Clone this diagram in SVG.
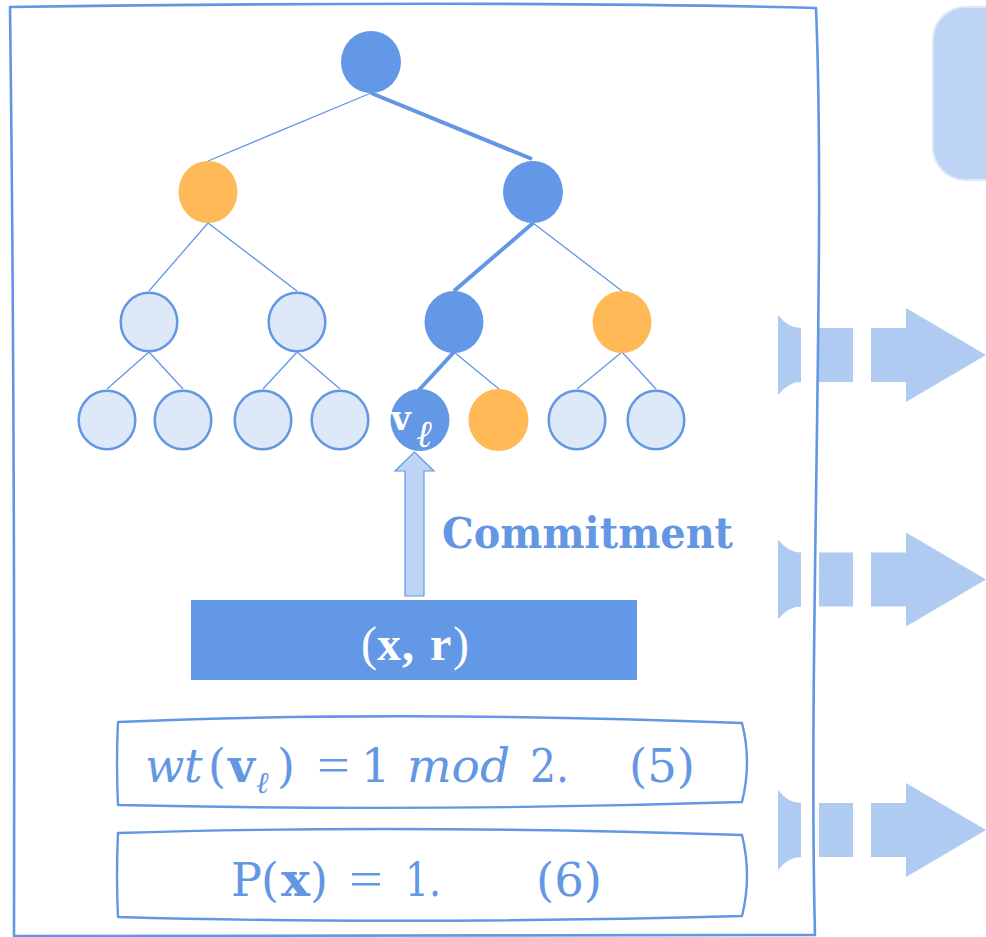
<svg xmlns="http://www.w3.org/2000/svg" width="986" height="937" viewBox="0 0 986 937">
<defs>
<style>
.frame{fill:none;stroke:#6397E3;stroke-width:2.6;stroke-linecap:round;stroke-linejoin:round}
.box{fill:none;stroke:#6397E3;stroke-width:2.4;stroke-linecap:round;stroke-linejoin:round}
.thin{stroke:#6397E3;stroke-width:1.3;fill:none}
.thick{stroke:#6397E3;stroke-width:4;fill:none}
.dark{fill:#6398E6}
.orange{fill:#FFB957}
.light{fill:#DDE8F8;stroke:#6397E3;stroke-width:2.5}
.blk{fill:#AFCBF2}
.eq{font-family:"DejaVu Serif",serif;font-size:46px;fill:#6397E3}
.eqs{font-family:"Liberation Serif",serif;font-size:50px}
</style>
<g id="rarrow">
<path class="blk" d="M778,-40 Q788,-27 801,-27 L801,27 Q788,27 778,40 Z"/>
<rect class="blk" x="819" y="-27" width="34" height="54"/>
<path class="blk" d="M871,-27 L906,-27 L906,-47 L986,0 L906,47 L906,27 L871,27 Z"/>
</g>
</defs>
<rect width="986" height="937" fill="#ffffff"/>

<g id="top-right-box">
<rect x="933" y="7" width="110" height="173" rx="33" fill="#BED4F4" stroke="#DAE7F9" stroke-width="2"/>
</g>

<g id="right-arrows">
<use href="#rarrow" y="355"/>
<use href="#rarrow" y="579.5"/>
<use href="#rarrow" y="830"/>
</g>

<g id="connectors">
<line class="thin" x1="371" y1="93" x2="208" y2="161"/>
<line class="thick" x1="371" y1="93" x2="532" y2="159"/>
<line class="thin" x1="208" y1="223" x2="149" y2="291"/>
<line class="thin" x1="208" y1="223" x2="297" y2="291"/>
<line class="thick" x1="533" y1="223" x2="454" y2="291"/>
<line class="thin" x1="533" y1="223" x2="622" y2="291"/>
<line class="thin" x1="149" y1="352" x2="107" y2="389"/>
<line class="thin" x1="149" y1="352" x2="183" y2="389"/>
<line class="thin" x1="297" y1="352" x2="263" y2="389"/>
<line class="thin" x1="297" y1="352" x2="340" y2="389"/>
<line class="thick" x1="454" y1="352" x2="419" y2="390"/>
<line class="thin" x1="454" y1="352" x2="499" y2="389"/>
<line class="thin" x1="622" y1="352" x2="577" y2="389"/>
<line class="thin" x1="622" y1="352" x2="656" y2="389"/>
<path id="commit-arrow" d="M405,596 L405,471 L395,471 L414.5,452 L434,471 L424,471 L424,596 Z" fill="#BED4F4" stroke="#6397E3" stroke-width="1.2"/>
</g>

<g id="n-root"><ellipse class="dark" cx="371" cy="62" rx="30" ry="31"/></g>
<g id="n-l2a"><ellipse class="orange" cx="208" cy="192" rx="29.5" ry="31"/></g>
<g id="n-l2b"><ellipse class="dark" cx="533" cy="192" rx="30" ry="31"/></g>
<g id="n-l3a"><ellipse class="light" cx="149" cy="322" rx="28.3" ry="29.3"/></g>
<g id="n-l3b"><ellipse class="light" cx="297" cy="322" rx="28.3" ry="29.3"/></g>
<g id="n-l3c"><ellipse class="dark" cx="454" cy="322" rx="29.5" ry="31"/></g>
<g id="n-l3d"><ellipse class="orange" cx="622" cy="322" rx="29.5" ry="31"/></g>
<g id="n-l4a"><ellipse class="light" cx="107" cy="420" rx="28.3" ry="29.3"/></g>
<g id="n-l4b"><ellipse class="light" cx="183" cy="420" rx="28.3" ry="29.3"/></g>
<g id="n-l4c"><ellipse class="light" cx="263" cy="420" rx="28.3" ry="29.3"/></g>
<g id="n-l4d"><ellipse class="light" cx="340" cy="420" rx="28.3" ry="29.3"/></g>
<g id="n-vl">
<ellipse class="dark" cx="420" cy="420" rx="29.5" ry="31"/>
<text x="391" y="430" font-family="'DejaVu Serif',serif" font-weight="bold" font-size="34" fill="#ffffff">v</text>
<text x="416" y="447" font-family="'DejaVu Serif',serif" font-style="italic" font-size="38" fill="#ffffff">ℓ</text>
</g>
<g id="n-l4f"><ellipse class="orange" cx="498.5" cy="420" rx="30" ry="31"/></g>
<g id="n-l4g"><ellipse class="light" cx="577" cy="420" rx="28.3" ry="29.3"/></g>
<g id="n-l4h"><ellipse class="light" cx="656" cy="420" rx="28.3" ry="29.3"/></g>

<g id="commitment-label">
<text x="442" y="548" font-family="'DejaVu Serif',serif" font-weight="bold" font-size="43.5" fill="#6397E3" textLength="291" lengthAdjust="spacingAndGlyphs">Commitment</text>
</g>

<g id="xr-box">
<rect x="191" y="600" width="446" height="80" fill="#6398E6"/>
<text y="660" font-family="'Liberation Serif',serif" font-size="48" fill="#ffffff"><tspan x="361">(</tspan><tspan x="377" font-weight="bold">x</tspan><tspan x="402" font-weight="bold">,</tspan><tspan x="430" font-weight="bold">r</tspan><tspan x="453">)</tspan></text>
</g>

<g id="eq5">
<path class="box" d="M118,722 Q400,710 742,723 Q752,762 742,802 Q430,812 118,805 Q116,762 118,722 Z"/>
<text class="eq" y="782"><tspan x="145" font-style="italic">w</tspan><tspan x="184" font-style="italic">t</tspan><tspan x="208">(</tspan><tspan x="228" font-weight="bold" textLength="27" lengthAdjust="spacingAndGlyphs">v</tspan><tspan x="256" y="793" font-style="italic" font-size="30">ℓ</tspan><tspan x="277" y="782">)</tspan><tspan class="eqs" x="317" textLength="33" lengthAdjust="spacingAndGlyphs">=</tspan><tspan x="361">1</tspan><tspan x="407" font-style="italic" textLength="103" lengthAdjust="spacingAndGlyphs">mod</tspan><tspan x="530" textLength="39" lengthAdjust="spacingAndGlyphs">2.</tspan><tspan x="629" textLength="66" lengthAdjust="spacingAndGlyphs">(5)</tspan></text>
</g>

<g id="eq6">
<path class="box" d="M118,833 Q400,824 742,835 Q752,876 742,916 Q400,925 118,917 Q116,875 118,833 Z"/>
<text class="eq" y="896"><tspan x="231" textLength="31" lengthAdjust="spacingAndGlyphs">P</tspan><tspan x="261">(</tspan><tspan x="281" font-weight="bold" textLength="29" lengthAdjust="spacingAndGlyphs">x</tspan><tspan x="310">)</tspan><tspan class="eqs" x="349" textLength="34" lengthAdjust="spacingAndGlyphs">=</tspan><tspan x="405" textLength="36" lengthAdjust="spacingAndGlyphs">1.</tspan><tspan x="536" textLength="66" lengthAdjust="spacingAndGlyphs">(6)</tspan></text>
</g>

<g id="outer-frame">
<path class="frame" d="M10,7 Q500,0 816,8 C826,250 808,650 815,935 L14,936 Q15,400 10,7 Z"/>
</g>
</svg>
